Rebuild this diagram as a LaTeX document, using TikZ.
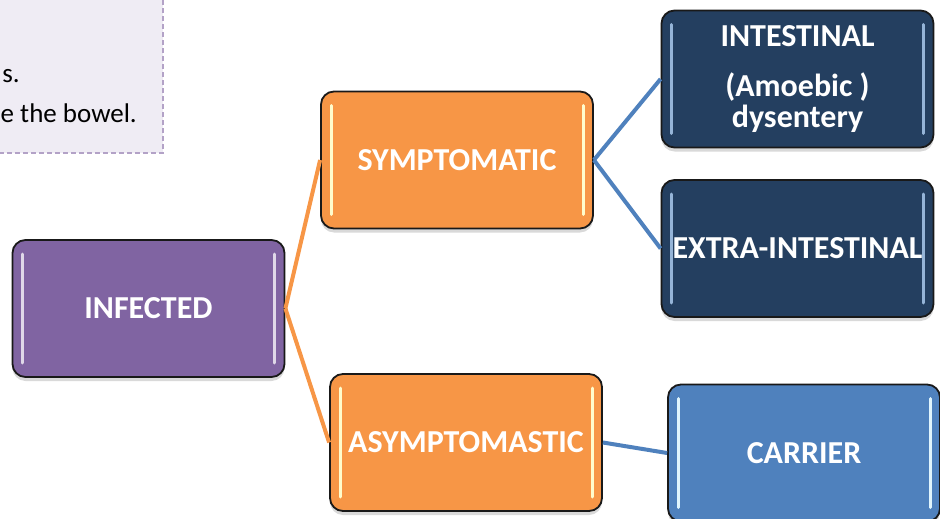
\documentclass[tikz,border=0pt]{standalone}
\usepackage{fontspec}
\setmainfont{Carlito}
\usetikzlibrary{shadows}
\definecolor{infpurple}{HTML}{8064A2}
\definecolor{symorange}{HTML}{F79646}
\definecolor{deepnavy}{HTML}{243F60}
\definecolor{carrblue}{HTML}{4F81BD}
\definecolor{notefill}{HTML}{EFECF4}
\definecolor{noteedge}{HTML}{B3A2C7}

\begin{document}
\begin{tikzpicture}[x=1pt,y=-1pt,
  box/.style 2 args={draw=black!90, line width=1.8pt, rounded corners=13pt, fill=#1,
    text=white, font=\bfseries\fontsize{32}{31}\selectfont, align=center, inner sep=2pt,
    minimum width=272pt, minimum height=137pt,
    drop shadow={opacity=0.3, shadow xshift=0pt, shadow yshift=-4pt},
    path picture={
      \draw[#2, line width=3pt, line cap=round]
        ([xshift=10pt,yshift=-14pt]path picture bounding box.north west) --
        ([xshift=10pt,yshift=14pt]path picture bounding box.south west);
      \draw[#2, line width=3pt, line cap=round]
        ([xshift=-10pt,yshift=-14pt]path picture bounding box.north east) --
        ([xshift=-10pt,yshift=14pt]path picture bounding box.south east);}},
  orangelink/.style={draw=symorange, line width=4pt},
  bluelink/.style={draw=carrblue, line width=4pt},
  notetext/.style={anchor=base east, inner sep=0pt, font=\fontsize{27}{30}\selectfont}]
  \useasboundingbox (0,0) rectangle (940,519);
  \clip (0,0) rectangle (940,519);
  % note box, cut off at the left edge
  \draw[fill=notefill, draw=noteedge, line width=1.5pt, dash pattern=on 5pt off 3pt] (-300,-20) rectangle (163,153);
  \node[notetext] (noteA) at (20,82) {s.};
  \node[notetext] (noteB) at (137,122) {e the bowel.};
  % the tree
  \node[box={infpurple}{infpurple!25!white}] (infected) at (148.5,308.5) {INFECTED};
  \node[box={symorange}{yellow!20!white}] (sympt) at (457,160) {SYMPTOMATIC};
  \node[box={symorange}{yellow!20!white}] (asympt) at (466,442.5) {ASYMPTOMASTIC};
  \node[box={deepnavy}{carrblue!60!white}] (intest) at (797.5,79) {INTESTINAL\\[19pt](Amoebic )\\dysentery};
  \node[box={deepnavy}{carrblue!60!white}] (extra) at (797.5,248.5) {EXTRA-INTESTINAL};
  \node[box={carrblue}{cyan!12!white}] (carrier) at (804,453) {CARRIER};
  % links
  \draw[orangelink] (infected.east) -- (sympt.west);
  \draw[orangelink] (infected.east) -- (asympt.west);
  \draw[bluelink] (sympt.east) -- (intest.west);
  \draw[bluelink] (sympt.east) -- (extra.west);
  \draw[bluelink] (asympt.east) -- (carrier.west);
\end{tikzpicture}
\end{document}
